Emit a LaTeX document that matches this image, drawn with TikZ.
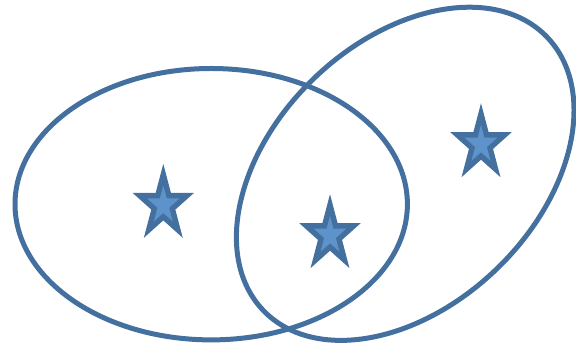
\documentclass[tikz,border=0pt]{standalone}
\definecolor{edge}{HTML}{44709F}
\definecolor{starfill}{HTML}{5D93CA}
\tikzset{
  ring/.style={draw=edge, line width=5pt},
  pics/bluestar/.style={code={
    \draw[draw=edge, fill=starfill, line width=5.4pt, line join=miter, miter limit=10,
          xscale=24.8, yscale=30.6]
      (90:1) -- (126:0.382) -- (162:1) -- (198:0.382) -- (234:1) -- (270:0.382)
      -- (306:1) -- (342:0.382) -- (18:1) -- (54:0.382) -- cycle;
  }}
}
\begin{document}
\begin{tikzpicture}[x=1pt,y=1pt]
\useasboundingbox (0,0) rectangle (576,344);
\draw[ring] (211.2,139.8) ellipse [x radius=196.2, y radius=135.7];
\draw[ring, shift={(405.2,170.2)}, rotate=44] (0,0) ellipse [x radius=197, y radius=132];
\pic at (163.3,138.9) {bluestar};
\pic at (330,108.6) {bluestar};
\pic at (481,199.6) {bluestar};
\end{tikzpicture}
\end{document}
